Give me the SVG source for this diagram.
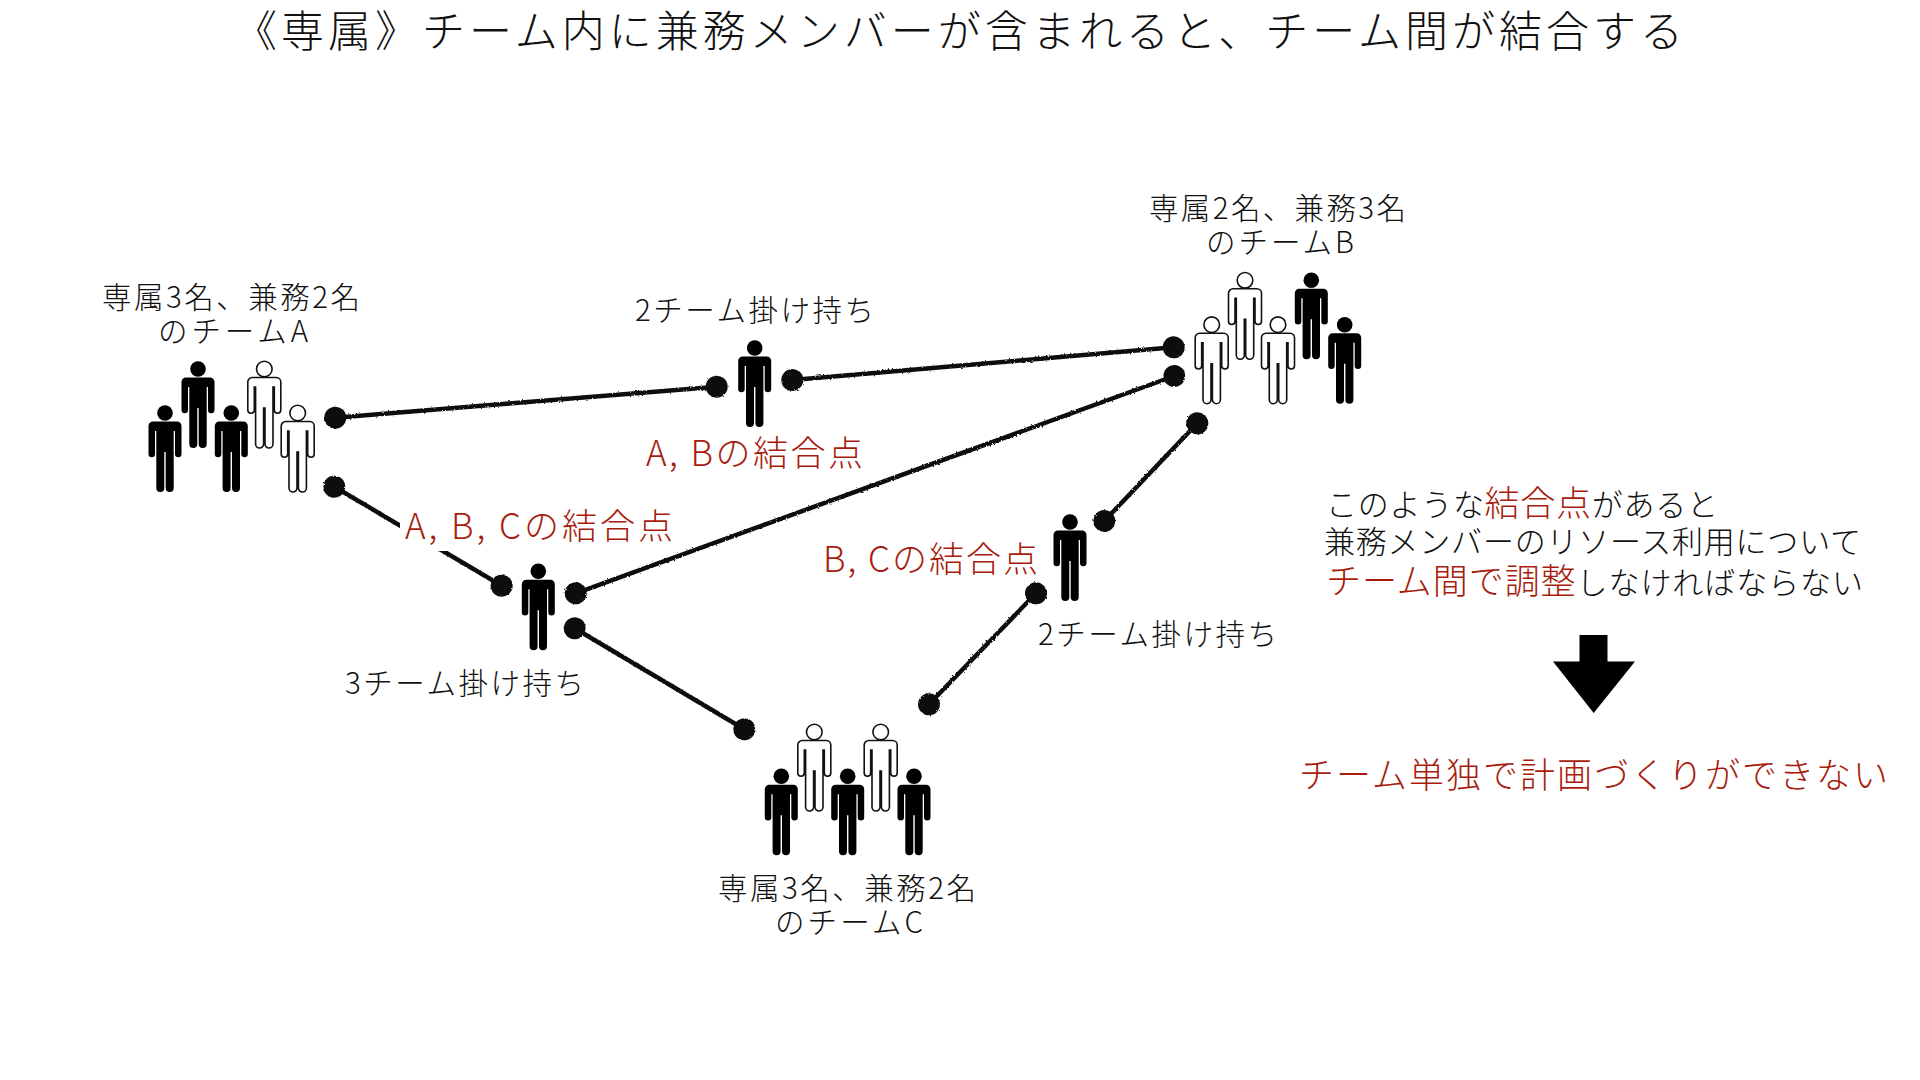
<svg xmlns="http://www.w3.org/2000/svg" width="1920" height="1080" viewBox="0 0 1920 1080">
<style>
text{font-family:"Noto Sans CJK JP","Noto Sans",sans-serif;font-weight:300;fill:#111;font-size:29.5px}
.title{font-size:43px}
.red{fill:#a81c0e}
.note{font-size:31px}
.hl{font-size:35px}
.big{font-size:35px}
.conn{filter:url(#rough)}
.conn line{stroke:#111;stroke-width:4.5;marker-start:url(#dot);marker-end:url(#dot)}
.d{fill:#000}
.w{fill:#fff;stroke:#111;stroke-width:1.6}
</style>
<defs>
<filter id="rough" x="-5%" y="-5%" width="110%" height="110%"><feTurbulence type="fractalNoise" baseFrequency="0.5" numOctaves="2" seed="3" result="n"/><feDisplacementMap in="SourceGraphic" in2="n" scale="2.5"/></filter>
<marker id="dot" markerUnits="userSpaceOnUse" markerWidth="24" markerHeight="24" refX="12" refY="12" orient="auto"><circle cx="12" cy="12" r="11" fill="#111"/></marker>
<g id="p"><circle cx="0" cy="8" r="7.8"/><path d="M-12,16.5H12A4.5,4.5 0 0 1 16.5,21V49A3.25,3.25 0 0 1 10,49V26H8.7V83A4,4 0 0 1 .7,83V47H-.7V83A4,4 0 0 1 -8.7,83V26H-10V49A3.25,3.25 0 0 1 -16.5,49V21A4.5,4.5 0 0 1 -12,16.5Z"/></g>
</defs>
<rect width="1920" height="1080" fill="#fff"/>
<text id="title" class="title" x="234" y="47" textLength="1449">《専属》チーム内に兼務メンバーが含まれると、チーム間が結合する</text>
<g id="connectors" class="conn">
<line x1="335.3" y1="417.7" x2="716.7" y2="386.7"/>
<line x1="792.3" y1="380" x2="1173.7" y2="347.3"/>
<line x1="334.3" y1="486.7" x2="501.7" y2="585.7"/>
<line x1="575.7" y1="593.3" x2="1174.3" y2="376"/>
<line x1="574.7" y1="628.3" x2="744.3" y2="729.3"/>
<line x1="1197.3" y1="423.3" x2="1104.3" y2="521"/>
<line x1="1036" y1="593.3" x2="929" y2="704.3"/>
</g>
<g id="team-a">
<text x="102" y="308" textLength="258">専属3名、兼務2名</text>
<text x="158" y="342" textLength="150">のチームA</text>
<use href="#p" class="d" x="165" y="405"/><use href="#p" class="d" x="198" y="361"/><use href="#p" class="d" x="231.3" y="405"/><use href="#p" class="w" x="264.3" y="361"/><use href="#p" class="w" x="297.7" y="405"/>
</g>
<g id="team-b">
<text x="1149" y="219" textLength="257">専属2名、兼務3名</text>
<text x="1206" y="253" textLength="148">のチームB</text>
<use href="#p" class="w" x="1211.7" y="316.7"/><use href="#p" class="w" x="1245" y="272.3"/><use href="#p" class="w" x="1278" y="316.7"/><use href="#p" class="d" x="1311.3" y="272.3"/><use href="#p" class="d" x="1344.7" y="316.7"/>
</g>
<g id="team-c">
<use href="#p" class="d" x="781.3" y="768.3"/><use href="#p" class="w" x="814.3" y="724"/><use href="#p" class="d" x="847.7" y="768.3"/><use href="#p" class="w" x="880.7" y="724"/><use href="#p" class="d" x="914" y="768.3"/>
<text x="718" y="899" textLength="258">専属3名、兼務2名</text>
<text x="775" y="933" textLength="148">のチームC</text>
</g>
<g id="member-ab">
<use href="#p" class="d" x="754.7" y="340"/>
<text x="635" y="321" textLength="239">2チーム掛け持ち</text>
<text class="red big" x="646" y="466" textLength="217">A, Bの結合点</text>
</g>
<g id="member-abc">
<rect x="400" y="505" width="275" height="46" fill="#fff"/>
<use href="#p" class="d" x="538.3" y="563.3"/>
<text class="red big" x="405" y="539" textLength="268">A, B, Cの結合点</text>
<text x="345" y="694" textLength="239">3チーム掛け持ち</text>
</g>
<g id="member-bc">
<use href="#p" class="d" x="1070" y="514"/>
<text class="red big" x="823" y="572" textLength="215">B, Cの結合点</text>
<text x="1038" y="645" textLength="239">2チーム掛け持ち</text>
</g>
<g id="conclusion">
<text class="note" x="1326" y="516" textLength="392">このような<tspan class="red hl">結合点</tspan>があると</text>
<text class="note" x="1324" y="553" textLength="537">兼務メンバーのリソース利用について</text>
<text class="note" x="1326" y="594" textLength="537"><tspan class="red hl">チーム間で調整</tspan>しなければならない</text>
<path id="arrow" d="M1579.5,635H1607.5V661.5H1635L1593.7,713L1553,661.5H1579.5Z" fill="#000"/>
<text class="red big" x="1299" y="788" textLength="589">チーム単独で計画づくりができない</text>
</g>
</svg>
